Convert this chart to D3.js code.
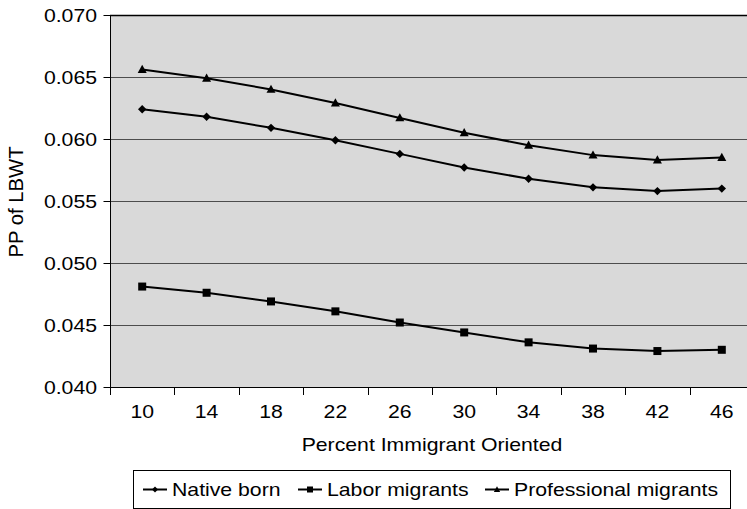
<!DOCTYPE html>
<html>
<head>
<meta charset="utf-8">
<script src="https://cdn.jsdelivr.net/npm/d3@7"></script>
<style>
html,body{margin:0;padding:0;background:#fff;}
svg{display:block;font-family:"Liberation Sans",Arial,sans-serif;}
</style>
</head>
<body>
<svg id="chart" width="747" height="509"></svg>
<script>
const categories = ["10","14","18","22","26","30","34","38","42","46"];
const nativeBorn = [0.0624,0.0618,0.0609,0.0599,0.0588,0.0577,0.0568,0.0561,0.0558,0.0560];
const laborMigrants = [0.0481,0.0476,0.0469,0.0461,0.0452,0.0444,0.0436,0.0431,0.0429,0.0430];
const professionalMigrants = [0.0656,0.0649,0.0640,0.0629,0.0617,0.0605,0.0595,0.0587,0.0583,0.0585];
const yTicks = [0.040,0.045,0.050,0.055,0.060,0.065,0.070];
const seriesNames = ["Native born","Labor migrants","Professional migrants"];
const seriesSymbols = ["diamond","square","triangle"];

const series = [nativeBorn, laborMigrants, professionalMigrants].map((v,i)=>({
  name: seriesNames[i], sym: seriesSymbols[i], values: v
}));

const svg = d3.select("#chart");
const L = 110, T = 15, R = 754, B = 387;
const SX = 1.18;

const x = d3.scaleBand().domain(categories).range([L,R]).padding(0);
const y = d3.scaleLinear().domain([0.040,0.070]).range([B,T]);

function txt(g, px, py, s, anchor, size, sx){
  return g.append("text")
    .attr("transform", `translate(${px},${py}) scale(${sx||SX},1)`)
    .attr("text-anchor", anchor || "start")
    .attr("font-size", size || 18)
    .attr("fill", "#000")
    .text(s);
}

// plot background
svg.append("rect").attr("x",L).attr("y",T).attr("width",R-L).attr("height",B-T).attr("fill","#d9d9d9");

// gridlines
svg.append("g").selectAll("line").data(yTicks.filter(d=>d>0.040)).join("line")
  .attr("x1",L).attr("x2",R)
  .attr("y1",d=>Math.round(y(d))+0.5).attr("y2",d=>Math.round(y(d))+0.5)
  .attr("stroke",d=>d>=0.070?"#000":"#4d4d4d").attr("stroke-width",d=>d>=0.070?1.3:1);

// y axis
const yAxis = svg.append("g").attr("transform",`translate(${L+0.5},0)`)
  .call(d3.axisLeft(y).tickValues(yTicks).tickSize(7).tickFormat(()=>""));
yAxis.select(".domain").attr("stroke","#000").attr("d",`M0,${T}V${B}`);
yAxis.selectAll(".tick line").attr("stroke","#000");
const yl = svg.append("g");
yTicks.forEach(t=>{ txt(yl, 97, y(t)+6.5, d3.format(".3f")(t), "end", 18); });

// x axis
const xAxis = svg.append("g").attr("transform",`translate(0,${B+0.5})`)
  .call(d3.axisBottom(x).tickSize(0).tickFormat(()=>""));
xAxis.select(".domain").attr("stroke","#000").attr("d",`M${L},0H${R}`);
const xt = svg.append("g");
categories.forEach((c,i)=>{
  const bx = x(c);
  xt.append("line").attr("x1",Math.round(bx)+0.5).attr("x2",Math.round(bx)+0.5)
    .attr("y1",B).attr("y2",B+8).attr("stroke","#000");
  txt(xt, bx + x.bandwidth()/2, 417.5, c, "middle", 18);
});

// axis titles
txt(svg, (L+R)/2, 451, "Percent Immigrant Oriented", "middle", 18);
svg.append("text")
  .attr("transform",`translate(23,202) rotate(-90) scale(1.04,1)`)
  .attr("text-anchor","middle").attr("font-size",19.5).text("PP of LBWT");

// symbols
function drawSym(g, sym, cx, cy, s){
  if(sym==="diamond"){
    g.append("path").attr("d",`M${cx},${cy-s}L${cx+s},${cy}L${cx},${cy+s}L${cx-s},${cy}Z`).attr("fill","#000");
  } else if(sym==="square"){
    g.append("rect").attr("x",cx-s).attr("y",cy-s).attr("width",2*s).attr("height",2*s).attr("fill","#000");
  } else {
    g.append("path").attr("d",`M${cx},${cy-s*1.1}L${cx+s*1.05},${cy+s*0.8}L${cx-s*1.05},${cy+s*0.8}Z`).attr("fill","#000");
  }
}

const line = d3.line().x((d,i)=>x(categories[i])+x.bandwidth()/2).y(d=>y(d));
const lines = svg.append("g");
series.forEach(s=>{
  lines.append("path").attr("d",line(s.values)).attr("fill","none")
    .attr("stroke","#000").attr("stroke-width",2);
  s.values.forEach((v,i)=>{
    drawSym(lines, s.sym, x(categories[i])+x.bandwidth()/2, y(v), s.sym==="diamond"?4.2:(s.sym==="square"?4:4.3));
  });
});

// legend
const lg = svg.append("g");
lg.append("rect").attr("x",133.5).attr("y",470.5).attr("width",597).attr("height",38)
  .attr("fill","#fff").attr("stroke","#000").attr("stroke-width",1);
const legX = [143, 298, 485];
series.forEach((s,i)=>{
  const lx = legX[i], ly = 489.5;
  lg.append("line").attr("x1",lx).attr("x2",lx+24).attr("y1",ly).attr("y2",ly).attr("stroke","#000").attr("stroke-width",2);
  drawSym(lg, s.sym, lx+12, ly, 3);
  txt(lg, lx+29, 496, s.name, "start", 18);
});
</script>
</body>
</html>
